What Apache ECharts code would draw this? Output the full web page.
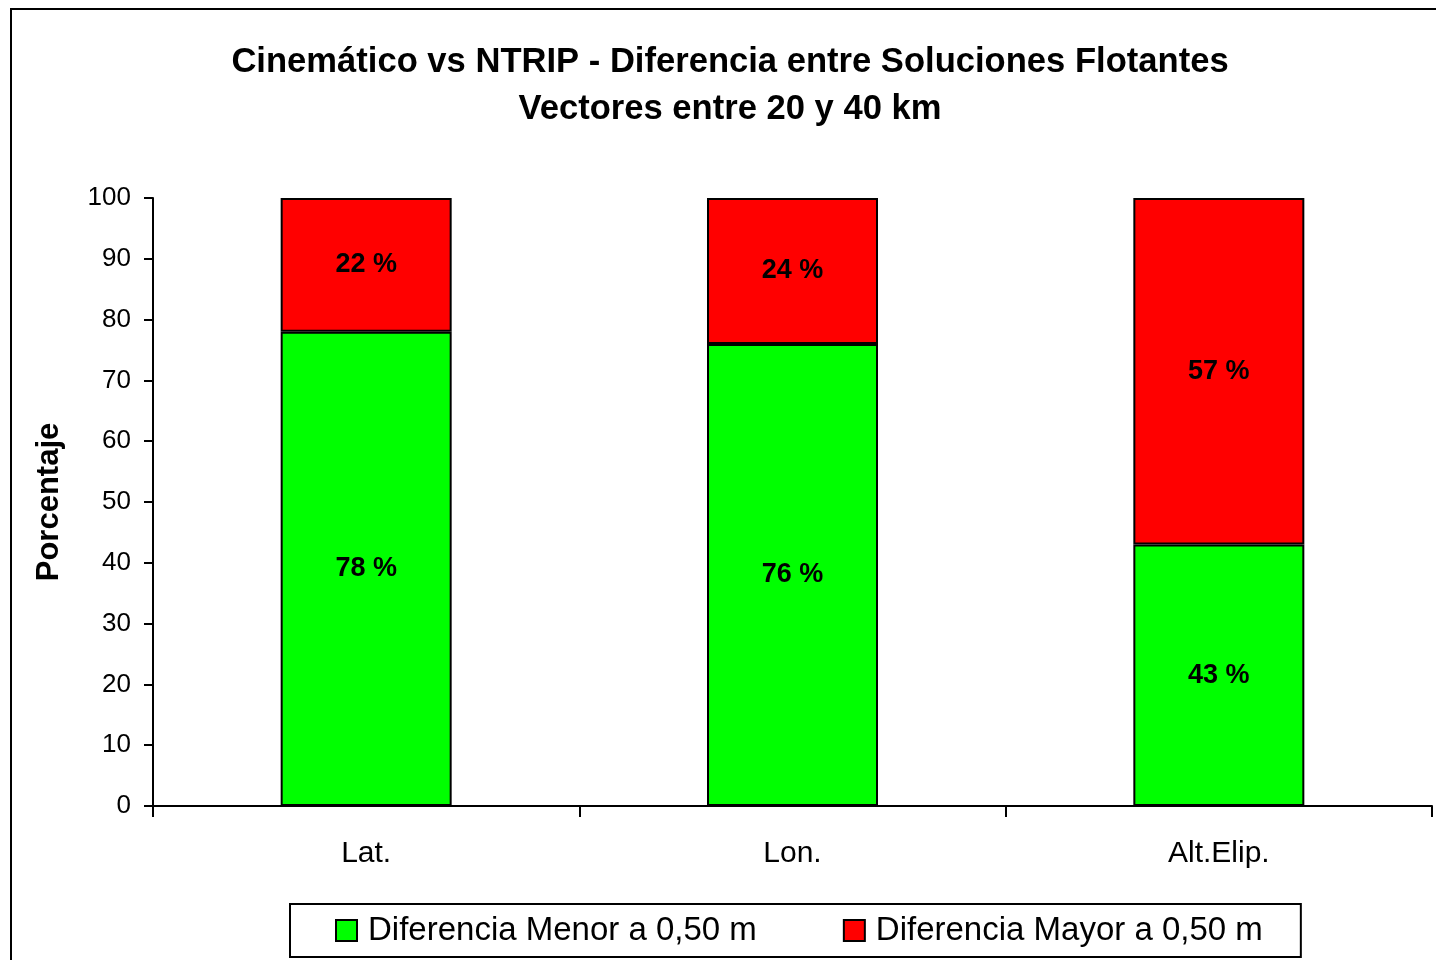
<!DOCTYPE html>
<html>
<head>
<meta charset="utf-8">
<script src="https://cdn.jsdelivr.net/npm/echarts@6/dist/echarts.min.js"></script>
<style>
  html, body { margin: 0; padding: 0; background: #fff; }
  #chart { width: 1436px; height: 960px; }
</style>
</head>
<body>
<div id="chart"></div>
<script>
// Componentes de posición evaluados
const categories = ['Lat.', 'Lon.', 'Alt.Elip.'];
// Porcentaje de vectores con diferencia menor / mayor a 0,50 m
const menorValues = [78, 76, 43];
const mayorValues = [22, 24, 57];
const seriesNames = ['Diferencia Menor a 0,50 m', 'Diferencia Mayor a 0,50 m'];
const titleLines = ['Cinemático vs NTRIP - Diferencia entre Soluciones Flotantes', 'Vectores entre 20 y 40 km'];

const FONT = '"Liberation Sans", Arial, sans-serif';

const chart = echarts.init(document.getElementById('chart'), null, { renderer: 'canvas' });

const labelStyle = {
  show: true,
  position: 'inside',
  formatter: '{c} %',
  color: '#000',
  fontFamily: FONT,
  fontWeight: 'bold',
  fontSize: 27
};

chart.setOption({
  backgroundColor: '#fff',
  animation: false,
  graphic: [{
    type: 'rect',
    shape: { x: 11, y: 9, width: 1440, height: 980 },
    style: { fill: 'none', stroke: '#000', lineWidth: 2 },
    silent: true,
    z: 0
  }],
  title: {
    text: titleLines.join('\n'),
    left: 730,
    textAlign: 'center',
    top: 39,
    padding: 0,
    textStyle: {
      fontFamily: FONT,
      fontWeight: 'bold',
      fontSize: 34.6,
      lineHeight: 47,
      color: '#000'
    }
  },
  legend: {
    left: 290,
    top: 904,
    padding: [10, 38, 10, 45],
    itemGap: 86,
    itemWidth: 21,
    itemHeight: 21,
    icon: 'rect',
    borderColor: '#000',
    borderWidth: 2,
    textStyle: {
      fontFamily: FONT,
      fontSize: 33,
      color: '#000',
      padding: [0, 0, 0, 6]
    },
    data: seriesNames
  },
  grid: {
    left: 153,
    right: 4,
    top: 198,
    bottom: 154,
    containLabel: false
  },
  xAxis: {
    type: 'category',
    data: categories,
    boundaryGap: true,
    axisLine: { lineStyle: { color: '#000', width: 2 } },
    axisTick: { show: true, alignWithLabel: false, length: 11, lineStyle: { color: '#000', width: 2 } },
    axisLabel: { color: '#000', fontFamily: FONT, fontSize: 30, margin: 33 },
    splitLine: { show: false }
  },
  yAxis: {
    type: 'value',
    min: 0,
    max: 100,
    interval: 10,
    name: 'Porcentaje',
    nameLocation: 'middle',
    nameRotate: 90,
    nameGap: 88,
    nameTextStyle: { color: '#000', fontFamily: FONT, fontWeight: 'bold', fontSize: 31 },
    axisLine: { show: true, lineStyle: { color: '#000', width: 2 } },
    axisTick: { show: true, length: 9, lineStyle: { color: '#000', width: 2 } },
    axisLabel: { color: '#000', fontFamily: FONT, fontSize: 26, margin: 22 },
    splitLine: { show: false }
  },
  series: [
    {
      name: seriesNames[0],
      type: 'bar',
      stack: 'total',
      barWidth: 171,
      data: menorValues,
      itemStyle: { color: '#00ff00', borderColor: '#000', borderWidth: 2 },
      label: labelStyle
    },
    {
      name: seriesNames[1],
      type: 'bar',
      stack: 'total',
      barWidth: 171,
      data: mayorValues,
      itemStyle: { color: '#ff0000', borderColor: '#000', borderWidth: 2 },
      label: labelStyle
    }
  ]
});
</script>
</body>
</html>
